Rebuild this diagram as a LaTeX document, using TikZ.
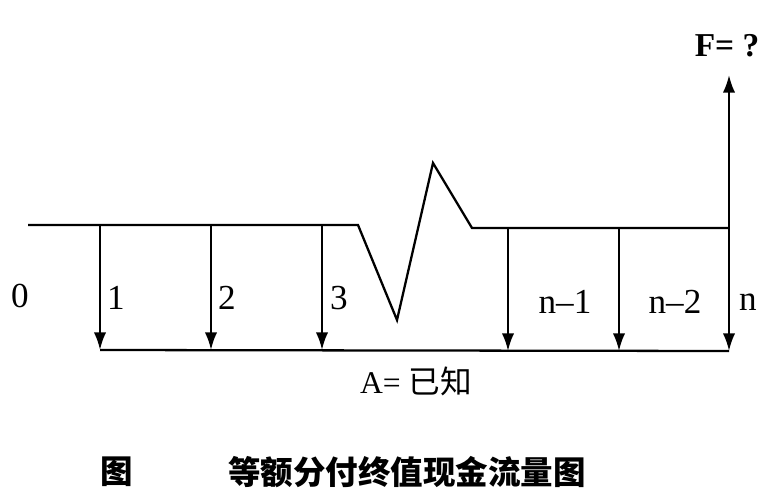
\documentclass[tikz,border=0pt]{standalone}
\usepackage{fontspec}
\setmainfont{Liberation Serif}
\newfontfamily\cjk{Noto Sans CJK SC}
\usetikzlibrary{arrows.meta}
\usetikzlibrary{positioning}

\tikzset{
 axis/.style={line width=1.3pt},
 flow/.style={line width=1.3pt,-{Latex[length=10pt,width=7pt]}},
 num/.style={font=\fontsize{20}{23}\selectfont},
 capt/.style={font=\fontsize{18.5}{21}\selectfont\cjk\bfseries}
}

\begin{document}
\begin{tikzpicture}[x=0.02cm,y=-0.02cm]
 \useasboundingbox (0,0) rectangle (770,500);
 % time line with the break
 \coordinate (start) at (28,225);
 \coordinate (zz1) at (358,225);
 \coordinate (zz2) at (397,320);
 \coordinate (zz3) at (433,163);
 \coordinate (zz4) at (472,228);
 \foreach \x [count=\i] in {100,211,322} {\coordinate (t\i) at (\x,225); \coordinate (b\i) at (\x,350);}
 \foreach \x [count=\i from 4] in {508,619,729} {\coordinate (t\i) at (\x,228); \coordinate (b\i) at (\x,351);}
 \coordinate (ftop) at (729,75);
 \draw[axis] (start)--(zz1)--(zz2)--(zz3)--(zz4)--(t6);
 \draw[axis] (b1)--(b6);
 \foreach \i in {1,...,6} \draw[flow] (t\i)--(b\i);
 \draw[flow] (t6)--(ftop);
 % period labels
 \node[num] (p0) at (20,296) {0};
 \node[num] (p1) at (116,298) {1};
 \node[num] (p2) at (227,298) {2};
 \node[num] (p3) at (339,298) {3};
 \node[num] (pn1) at (565,302) {n–1};
 \node[num] (pn2) at (675,302) {n–2};
 \node[num] (pn) at (748,302) {n};
 \node[font=\fontsize{19}{22}\selectfont\bfseries] (fval) at (727,46) {F= ?};
 \node[font=\fontsize{18}{21}\selectfont] (aval) at (416,381) {A= {\cjk 已知}};
 % caption
 \node[capt] (cap1) at (117,472) {图};
 \node[capt] (cap2) at (407,472) {等额分付终值现金流量图};
\end{tikzpicture}
\end{document}
